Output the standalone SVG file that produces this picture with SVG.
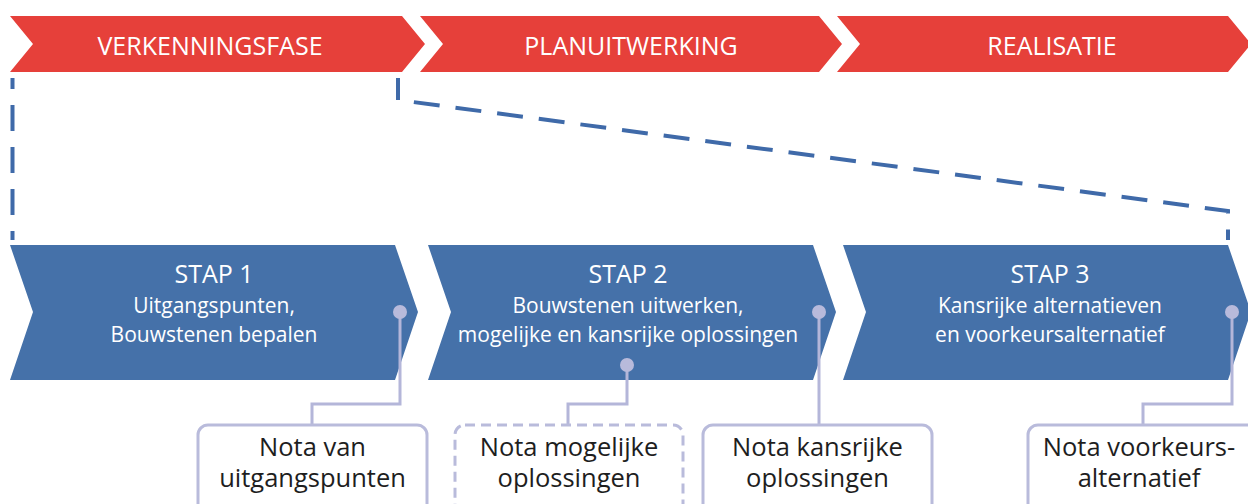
<svg xmlns="http://www.w3.org/2000/svg" width="1248" height="504" viewBox="0 0 1248 504">
<style>
.phase{fill:#e6403a}
.step{fill:#4571a9}
.ph{font-family:"Open Sans","Liberation Sans",sans-serif;font-size:25px;fill:#ffffff;text-anchor:middle}
.st{font-family:"Open Sans","Liberation Sans",sans-serif;font-size:25px;fill:#ffffff;text-anchor:middle}
.sub{font-family:"Open Sans","Liberation Sans",sans-serif;font-size:21px;fill:#ffffff;text-anchor:middle}
.nt{font-family:"Open Sans","Liberation Sans",sans-serif;font-size:25.5px;fill:#1e1e1e;text-anchor:middle}
.dash{fill:none;stroke:#3f6aa9;stroke-width:4;stroke-dasharray:26 16}
.link{fill:none;stroke:#b4b6d9;stroke-width:3}
.dot{fill:#b8badb}
.box{fill:#ffffff;stroke:#b9bbdb;stroke-width:3}
</style>
<rect width="1248" height="504" fill="#ffffff"/>
<g id="phase1"><polygon class="phase" points="10,16 402,16 425,44 402,72 10,72 33,44"/><text class="ph" x="210" y="55">VERKENNINGSFASE</text></g>
<g id="phase2"><polygon class="phase" points="420,16 819,16 842,44 819,72 420,72 443,44"/><text class="ph" x="631" y="55">PLANUITWERKING</text></g>
<g id="phase3"><polygon class="phase" points="837,16 1228,16 1251,44 1228,72 837,72 860,44"/><text class="ph" x="1052" y="55">REALISATIE</text></g>
<g id="connectors">
<path class="dash" d="M12.5 78 V240" stroke-dashoffset="15"/>
<path class="dash" d="M398 78 V100 L1228 211 V240" stroke-dashoffset="4"/>
</g>
<g id="step1"><polygon class="step" points="10,245 395,245 418,312 395,380 10,380 33,312"/><text class="st" x="214" y="283">STAP 1</text><text class="sub" x="214" y="313">Uitgangspunten,</text><text class="sub" x="214" y="342">Bouwstenen bepalen</text></g>
<g id="step2"><polygon class="step" points="428,245 813,245 836,312 813,380 428,380 451,312"/><text class="st" x="628" y="283">STAP 2</text><text class="sub" x="628" y="313">Bouwstenen uitwerken,</text><text class="sub" x="628" y="342">mogelijke en kansrijke oplossingen</text></g>
<g id="step3"><polygon class="step" points="843,245 1228,245 1251,312 1228,380 843,380 866,312"/><text class="st" x="1050" y="283">STAP 3</text><text class="sub" x="1050" y="313">Kansrijke alternatieven</text><text class="sub" x="1050" y="342">en voorkeursalternatief</text></g>
<g id="links">
<path class="link" d="M400 312 V404 H312 V425"/>
<path class="link" d="M627 365 V404 H568 V425"/>
<path class="link" d="M819 312 V425"/>
<path class="link" d="M1232 312 V404 H1143 V425"/>
<circle class="dot" cx="400" cy="312" r="7"/>
<circle class="dot" cx="627" cy="365" r="7"/>
<circle class="dot" cx="819" cy="312" r="7"/>
<circle class="dot" cx="1232" cy="312" r="7"/>
</g>
<g id="nota1"><rect class="box" x="198" y="425" width="229" height="100" rx="10"/><text class="nt" x="312.5" y="456">Nota van</text><text class="nt" x="312.5" y="487">uitgangspunten</text></g>
<g id="nota2"><rect class="box" x="455" y="425" width="228" height="100" rx="10" stroke-dasharray="10 6"/><text class="nt" x="569" y="456">Nota mogelijke</text><text class="nt" x="569" y="487">oplossingen</text></g>
<g id="nota3"><rect class="box" x="703" y="425" width="229" height="100" rx="10"/><text class="nt" x="817.5" y="456">Nota kansrijke</text><text class="nt" x="817.5" y="487">oplossingen</text></g>
<g id="nota4"><rect class="box" x="1028" y="425" width="240" height="100" rx="10"/><text class="nt" x="1139" y="456">Nota voorkeurs-</text><text class="nt" x="1139" y="487">alternatief</text></g>
</svg>
